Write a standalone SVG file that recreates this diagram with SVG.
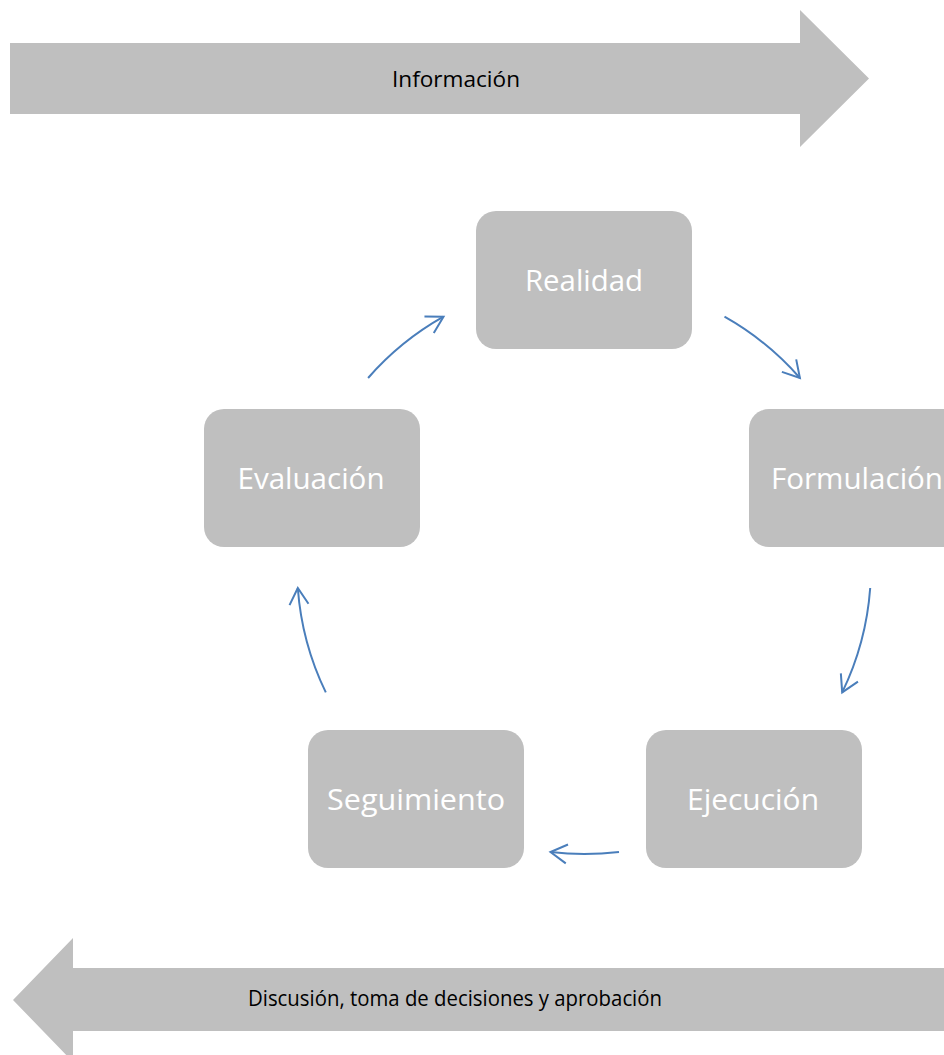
<svg xmlns="http://www.w3.org/2000/svg" width="944" height="1055" viewBox="0 0 944 1055">
  <style>
    .band { fill: #bfbfbf; }
    .band-text { font-family: "Open Sans", "Liberation Sans", sans-serif; font-size: 22px; fill: #000000; text-anchor: middle; }
    .box { fill: #bfbfbf; }
    .box-text { font-family: "Open Sans", "Liberation Sans", sans-serif; font-size: 29px; fill: #ffffff; text-anchor: middle; }
    .conn { fill: none; stroke: #4a7ebb; stroke-width: 2; marker-end: url(#open); }
  </style>
  <defs>
    <marker id="open" markerUnits="userSpaceOnUse" markerWidth="30" markerHeight="30" viewBox="-20 -15 30 30" refX="0" refY="0" orient="auto">
      <path d="M -16.5 -9.5 L 0 0 L -16.5 9.5" fill="none" stroke="#4a7ebb" stroke-width="2"/>
    </marker>
  </defs>
  <rect width="944" height="1055" fill="#ffffff"/>

  <g id="informacion">
    <path class="band" d="M10 43 H800 V10 L869 78.5 L800 147 V114 H10 Z"/>
    <text class="band-text" x="456" y="87" textLength="128" lengthAdjust="spacingAndGlyphs">Información</text>
  </g>

  <g id="discusion">
    <path class="band" d="M950 968 H73 V938 L13 1000 L73 1062 V1031 H950 Z"/>
    <text class="band-text" x="455" y="1006" textLength="414" lengthAdjust="spacingAndGlyphs">Discusión, toma de decisiones y aprobación</text>
  </g>

  <g id="realidad">
    <rect class="box" x="476" y="211" width="216" height="138" rx="20" ry="20"/>
    <text class="box-text" x="584" y="291" textLength="118" lengthAdjust="spacingAndGlyphs">Realidad</text>
  </g>

  <g id="formulacion">
    <rect class="box" x="749" y="409" width="216" height="138" rx="20" ry="20"/>
    <text class="box-text" x="857" y="489" textLength="172" lengthAdjust="spacingAndGlyphs">Formulación</text>
  </g>

  <g id="ejecucion">
    <rect class="box" x="646" y="730" width="216" height="138" rx="20" ry="20"/>
    <text class="box-text" x="753" y="810" textLength="132" lengthAdjust="spacingAndGlyphs">Ejecución</text>
  </g>

  <g id="seguimiento">
    <rect class="box" x="308" y="730" width="216" height="138" rx="20" ry="20"/>
    <text class="box-text" x="416" y="810" textLength="178" lengthAdjust="spacingAndGlyphs">Seguimiento</text>
  </g>

  <g id="evaluacion">
    <rect class="box" x="204" y="409" width="216" height="138" rx="20" ry="20"/>
    <text class="box-text" x="311" y="489" textLength="147" lengthAdjust="spacingAndGlyphs">Evaluación</text>
  </g>

  <g id="connectors">
    <path class="conn" d="M724.5 316.7 A287 287 0 0 1 799.9 378.0"/>
    <path class="conn" d="M870.2 588.0 A287 287 0 0 1 842.2 692.4"/>
    <path class="conn" d="M619.0 851.9 A287 287 0 0 1 550.5 852.0"/>
    <path class="conn" d="M325.8 692.4 A287 287 0 0 1 297.8 588.0"/>
    <path class="conn" d="M368.1 378.0 A287 287 0 0 1 443.5 316.7"/>
  </g>
</svg>
